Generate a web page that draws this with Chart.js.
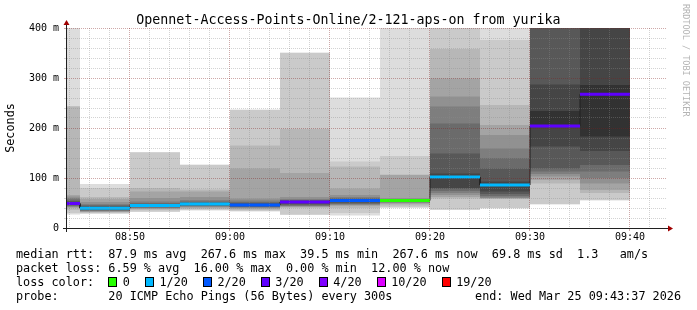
<!DOCTYPE html>
<html>
<head>
<meta charset="utf-8">
<script src="https://cdn.jsdelivr.net/npm/chart.js@4.4.1/dist/chart.umd.min.js"></script>
<style>
html,body{margin:0;padding:0;background:#fff;}
#wrap{position:relative;width:697px;height:310px;overflow:hidden;font-family:'DejaVu Sans Mono',monospace;color:#000;}
#c{position:absolute;left:0;top:0;}
.t{position:absolute;left:16px;white-space:pre;font-size:11.8px;line-height:14px;}
.title{position:absolute;left:0;width:697px;top:12px;text-align:center;font-size:13.3px;line-height:16px;white-space:pre;}
.box{display:inline-block;width:7px;height:8px;border:1px solid #000;margin-right:5.5px;vertical-align:-1px;}
.wm{position:absolute;left:681px;top:4px;writing-mode:vertical-rl;font-size:8.5px;line-height:10px;color:#b4b4b4;white-space:pre;}
</style>
</head>
<body>
<div id="wrap">
<canvas id="c" width="697" height="310"></canvas>
<div class="title">Opennet-Access-Points-Online/2-121-aps-on from yurika</div>
<div class="wm">RRDTOOL / TOBI OETIKER</div>
</div>
<script>
// ---------- data ----------
const binStarts = ['08:40','08:45','08:50','08:55','09:00','09:05','09:10','09:15','09:20','09:25','09:30','09:35'];
const medianMs  = [49, 39.5, 45, 48, 46, 52, 55, 55, 102, 86, 204, 267.6];
const lostPings = [3, 1, 1, 1, 2, 3, 2, 0, 1, 1, 3, 3];
// sorted ping round-trip times (ms), 20 per 5-minute step
const pingMs = [
  [27, 30, 36, 40, 42, 43, 44, 46, 47, 48, 50, 52, 54, 57, 60, 63, 66, 243, 244, 520],
  [28, 30, 31, 32, 33, 34, 35, 36, 37, 38, 40, 42, 44, 46, 48, 52, 58, 62, 80, 88],
  [32, 33, 36, 38, 39, 40, 41, 42, 43, 44, 46, 47, 48, 50, 53, 60, 73, 80, 151, 152],
  [35, 36, 38, 40, 42, 43, 44, 45, 46, 47, 49, 50, 51, 53, 56, 62, 73, 77, 126, 127],
  [33, 34, 36, 38, 40, 41, 42, 43, 44, 45, 47, 48, 50, 52, 55, 59, 119, 165, 236, 237],
  [26, 27, 40, 42, 43, 44, 45, 47, 49, 51, 53, 54, 55, 56, 58, 62, 110, 198, 350, 351],
  [25, 30, 40, 44, 46, 47, 48, 50, 52, 54, 56, 57, 58, 60, 62, 66, 79, 123, 133, 261],
  [40, 42, 45, 48, 50, 51, 52, 53, 54, 55, 55.5, 56, 56.5, 57, 58, 60, 106, 107, 144, 420],
  [36, 37, 59, 62, 66, 70, 74, 78, 80, 100, 104, 109, 149, 209, 243, 263, 299, 358, 440, 450],
  [39, 40, 58, 59, 60, 61, 64, 68, 73, 85, 88, 93, 119, 140, 159, 186, 206, 246, 376, 450],
  [47, 48, 89, 96, 103, 108, 113, 119, 163, 205, 234, 287, 420, 430, 440, 450, 460, 470, 480, 490],
  [55, 56, 70, 76, 89, 100, 113, 126, 154, 183, 286, 420, 430, 440, 450, 460, 470, 480, 490, 500]
];
const xTickLabels = ['08:50','09:00','09:10','09:20','09:30','09:40'];
const yTickValues = [0, 100, 200, 300, 400];
const yTickLabels = ['0', '100 m', '200 m', '300 m', '400 m'];
const lossThresholds = [0, 1, 2, 3, 4, 10, 19];
const lossLabels = ['0', '1/20', '2/20', '3/20', '4/20', '10/20', '19/20'];
const statLines = [
  'median rtt:  87.9 ms avg  267.6 ms max  39.5 ms min  267.6 ms now  69.8 ms sd  1.3   am/s',
  'packet loss: 6.59 % avg  16.00 % max  0.00 % min  12.00 % now',
  'loss color:  ',
  'probe:       20 ICMP Echo Pings (56 Bytes) every 300s'
];
const endText = 'end: Wed Mar 25 09:43:37 2026';
const viewStart = '08:43:42';
const viewMinutes = 60;

// ---------- styles ----------
const lossColors = ['#26ff00', '#00b8ff', '#0059ff', '#5e00ff', '#7e00ff', '#dd00ff', '#ff0000'];
const FONT = "'DejaVu Sans Mono'";
const MAJOR_GRID = 'rgba(130,30,30,0.38)';
const MINOR_GRID = 'rgba(140,140,140,0.38)';
const AXIS = '#202020';
const ARROW = '#a00000';
const BIN = 5, MINOR_X = 2, MINOR_Y = 20, PINGS = 20, HALF = PINGS / 2;

const toMin = s => { const p = s.split(':').map(Number); return p[0] * 60 + p[1] + (p[2] || 0) / 60; };
const xMin = toMin(viewStart), xMax = xMin + viewMinutes;
const lossColor = n => { let c = lossColors[0]; lossThresholds.forEach((t, i) => { if (n >= t) c = lossColors[i]; }); return c; };

// ---------- datasets ----------
const datasets = [];
for (let k = 1; k <= HALF; k++) {
  const g = Math.floor(190 / HALF * (HALF - k)) + 50;
  datasets.push({
    type: 'bar', xAxisID: 'x', yAxisID: 'y', order: 12 - k,
    data: binStarts.map((s, i) => ({ x: toMin(s) + BIN / 2, y: [pingMs[i][k - 1], pingMs[i][PINGS - k]] })),
    backgroundColor: `rgb(${g},${g},${g})`,
    borderWidth: 0, grouped: false, barPercentage: 1, categoryPercentage: 1, clip: 0, inflateAmount: 0
  });
}
const medPts = [];
binStarts.forEach((s, i) => { medPts.push({ x: toMin(s), y: medianMs[i] }, { x: toMin(s) + BIN, y: medianMs[i] }); });
datasets.push({
  type: 'line', xAxisID: 'x', yAxisID: 'y', order: 1, data: medPts,
  borderColor: AXIS, borderWidth: 1, pointRadius: 0, tension: 0
});
const lossPts = [];
binStarts.forEach((s, i) => { lossPts.push({ x: toMin(s), y: medianMs[i] }, { x: toMin(s) + BIN, y: medianMs[i] }, { x: toMin(s) + BIN, y: null }); });
datasets.push({
  type: 'line', xAxisID: 'x', yAxisID: 'y', order: 0, data: lossPts, spanGaps: false,
  borderColor: lossColors[0], borderWidth: 3, pointRadius: 0, tension: 0, borderCapStyle: 'butt',
  segment: { borderColor: c => lossColor(lostPings[Math.floor(c.p0DataIndex / 3)]) }
});

// ---------- axes decoration (rrdtool style axis lines with arrows) ----------
const axisArrows = {
  id: 'axisArrows',
  afterDraw(chart) {
    const { ctx, chartArea: a } = chart;
    const yb = a.bottom + 0.5, xl = a.left - 0.5;
    ctx.save();
    ctx.strokeStyle = AXIS; ctx.lineWidth = 1;
    ctx.beginPath();
    ctx.moveTo(a.left - 4, yb); ctx.lineTo(a.right + 2, yb);
    ctx.moveTo(xl, a.bottom + 4); ctx.lineTo(xl, a.top - 4);
    ctx.stroke();
    ctx.fillStyle = ARROW;
    ctx.beginPath();
    ctx.moveTo(xl - 3, a.top - 3); ctx.lineTo(xl + 3, a.top - 3); ctx.lineTo(xl, a.top - 8); ctx.closePath(); ctx.fill();
    ctx.beginPath();
    ctx.moveTo(a.right + 1, yb - 3); ctx.lineTo(a.right + 1, yb + 3); ctx.lineTo(a.right + 6, yb); ctx.closePath(); ctx.fill();
    ctx.restore();
  }
};

new Chart(document.getElementById('c'), {
  type: 'bar',
  data: { datasets },
  options: {
    responsive: false, animation: false, devicePixelRatio: 1, events: [],
    layout: { padding: { left: 0, right: 30, top: 28, bottom: 62 } },
    plugins: { legend: { display: false }, tooltip: { enabled: false }, title: { display: false } },
    scales: {
      x: {
        type: 'linear', axis: 'x', position: 'bottom', min: xMin, max: xMax, offset: false,
        afterBuildTicks: s => { s.ticks = xTickLabels.map(l => ({ value: toMin(l) })); },
        ticks: { autoSkip: false, maxRotation: 0, color: '#000', font: { family: FONT, size: 10 }, padding: 0.5,
                 callback: (v, i) => xTickLabels[i] },
        grid: { offset: false, color: MAJOR_GRID, z: 1, drawTicks: true, tickLength: 3, tickColor: MAJOR_GRID },
        border: { display: false, dash: [1, 1] },
        afterFit: s => { s.height = 20; }
      },
      xMinor: {
        type: 'linear', axis: 'x', position: 'bottom', min: xMin, max: xMax, offset: false,
        afterBuildTicks: s => {
          const t = [];
          for (let m = Math.ceil(xMin / MINOR_X) * MINOR_X; m <= xMax; m += MINOR_X) if (m % 10 !== 0) t.push({ value: m });
          s.ticks = t;
        },
        ticks: { display: false },
        grid: { offset: false, color: MINOR_GRID, z: 1, drawTicks: false },
        border: { display: false, dash: [1, 1] },
        afterFit: s => { s.height = 0; }
      },
      y: {
        type: 'linear', position: 'left', min: yTickValues[0], max: yTickValues[yTickValues.length - 1],
        afterBuildTicks: s => {
          const t = [];
          for (let v = s.min; v <= s.max; v += MINOR_Y) t.push({ value: v });
          s.ticks = t;
        },
        ticks: { autoSkip: false, color: '#000', font: { family: FONT, size: 10 }, padding: 5,
                 callback: v => { const i = yTickValues.indexOf(v); return i < 0 ? '' : yTickLabels[i]; } },
        grid: { color: c => (c.tick && yTickValues.includes(c.tick.value)) ? MAJOR_GRID : MINOR_GRID, z: 1,
                drawTicks: true, tickLength: 3,
                tickColor: c => (c.tick && yTickValues.includes(c.tick.value)) ? MAJOR_GRID : MINOR_GRID },
        border: { display: false, dash: [1, 1] },
        title: { display: true, text: 'Seconds', color: '#000', font: { family: FONT, size: 11.8 }, padding: { top: 4, bottom: 0 } },
        afterFit: s => { s.width = 67; }
      }
    }
  },
  plugins: [axisArrows]
});

// ---------- legend text ----------
const wrap = document.getElementById('wrap');
const rowTops = [247, 261, 275, 289];
statLines.forEach((txt, r) => {
  const d = document.createElement('div');
  d.className = 't';
  d.style.top = rowTops[r] + 'px';
  d.textContent = txt;
  if (r === 2) {
    lossLabels.forEach((lab, i) => {
      const b = document.createElement('span');
      b.className = 'box';
      b.style.background = lossColors[i];
      d.appendChild(b);
      const t = document.createElement('span');
      t.textContent = lab;
      if (i < lossLabels.length - 1) t.style.marginRight = '15px';
      d.appendChild(t);
    });
  }
  wrap.appendChild(d);
});
const e = document.createElement('div');
e.className = 't';
e.style.left = 'auto';
e.style.right = '16px';
e.style.top = rowTops[3] + 'px';
e.textContent = endText;
wrap.appendChild(e);
</script>
</body>
</html>
